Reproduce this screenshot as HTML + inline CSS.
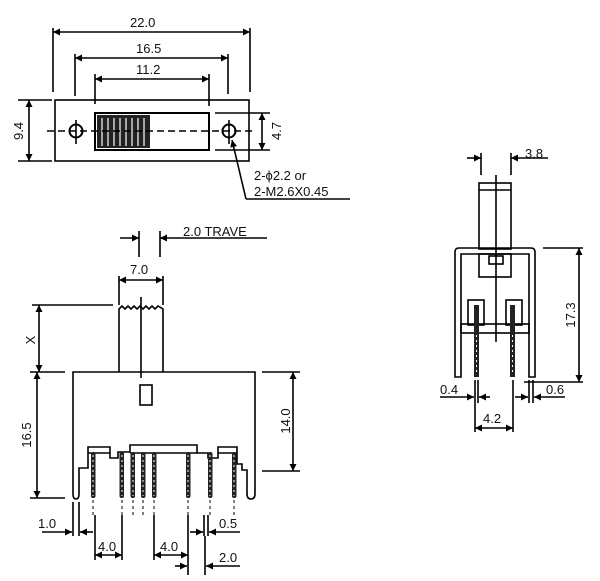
<!DOCTYPE html>
<html><head><meta charset="utf-8"><style>
html,body{margin:0;padding:0;background:#fff}
svg{display:block}
text{font-family:"Liberation Sans",sans-serif;font-size:13px;fill:#111}
</style></head><body>
<svg width="600" height="581" viewBox="0 0 600 581" xmlns="http://www.w3.org/2000/svg">
<defs>
<marker id="a" viewBox="0 0 10 10" refX="10" refY="5" markerWidth="9" markerHeight="7" orient="auto-start-reverse" markerUnits="userSpaceOnUse"><path d="M0,0 L10,5 L0,10 z" fill="#000"/></marker>
</defs>
<g stroke="#000" stroke-width="1.6" fill="none">
<!-- TOP VIEW -->
<line x1="53" y1="28" x2="53" y2="92"/><line x1="250" y1="28" x2="250" y2="92"/>
<line x1="53" y1="32" x2="250" y2="32" marker-start="url(#a)" marker-end="url(#a)"/>
<line x1="75" y1="54" x2="75" y2="96"/><line x1="228" y1="54" x2="228" y2="94"/>
<line x1="75" y1="58" x2="228" y2="58" marker-start="url(#a)" marker-end="url(#a)"/>
<line x1="95" y1="74" x2="95" y2="104"/><line x1="209" y1="74" x2="209" y2="106"/>
<line x1="95" y1="79" x2="209" y2="79" marker-start="url(#a)" marker-end="url(#a)"/>
<rect x="55" y="100" width="194" height="61"/>
<rect x="95" y="113" width="114" height="37" stroke-width="2"/>
<rect x="97" y="115" width="53" height="33" fill="#222" stroke="none"/>
<g stroke="#fff" stroke-width="1.2">
<line x1="102" y1="118" x2="102" y2="146"/><line x1="108" y1="118" x2="108" y2="146"/><line x1="114" y1="118" x2="114" y2="146"/><line x1="120" y1="118" x2="120" y2="146"/><line x1="126" y1="118" x2="126" y2="146"/><line x1="132" y1="118" x2="132" y2="146"/><line x1="138" y1="118" x2="138" y2="146"/><line x1="144" y1="118" x2="144" y2="146"/>
</g>
<line x1="47" y1="131" x2="255" y2="131" stroke-dasharray="7,4"/>
<circle cx="76" cy="131" r="6.5" stroke-width="2"/><line x1="76" y1="120" x2="76" y2="144"/>
<circle cx="229" cy="131" r="6.5" stroke-width="2"/><line x1="229" y1="120" x2="229" y2="144"/>
<line x1="18" y1="100" x2="52" y2="100"/><line x1="18" y1="161" x2="52" y2="161"/>
<line x1="29" y1="100" x2="29" y2="161" marker-start="url(#a)" marker-end="url(#a)"/>
<line x1="215" y1="113" x2="270" y2="113"/><line x1="215" y1="150" x2="270" y2="150"/>
<line x1="262" y1="113" x2="262" y2="150" marker-start="url(#a)" marker-end="url(#a)"/>
<polyline points="246,199 350,199"/>
<line x1="246" y1="199" x2="232" y2="140" marker-end="url(#a)"/>

<!-- FRONT VIEW -->
<line x1="139" y1="231" x2="139" y2="257"/><line x1="160" y1="231" x2="160" y2="257"/>
<line x1="120" y1="238" x2="139" y2="238" marker-end="url(#a)"/>
<line x1="267" y1="238" x2="160" y2="238" marker-end="url(#a)"/>
<line x1="119" y1="276" x2="119" y2="305"/><line x1="163" y1="276" x2="163" y2="305"/>
<line x1="119" y1="280" x2="163" y2="280" marker-start="url(#a)" marker-end="url(#a)"/>
<path d="M119,372 L119,309 l3,-3 3,3 3,-3 3,3 3,-3 3,3 3,-3 3,3 3,-3 3,3 3,-3 3,3 3,-3 L163,309 L163,372"/>
<line x1="141" y1="297" x2="141" y2="378"/>
<line x1="32" y1="305" x2="113" y2="305"/><line x1="30" y1="372" x2="65" y2="372"/>
<line x1="39" y1="305" x2="39" y2="372" marker-start="url(#a)" marker-end="url(#a)"/>
<line x1="30" y1="498" x2="65" y2="498"/>
<line x1="37" y1="372" x2="37" y2="498" marker-start="url(#a)" marker-end="url(#a)"/>
<path d="M73,372 L255,372 L255,494 Q255,499 251,499 Q247,499 247,494 L247,470 L242,470 L242,464 L237,464 L237,447 L218,447 L218,458 L208,458 L208,453 L197,453 L197,445 L130,445 L130,452 L118,452 L118,458 L110,458 L110,447 L88,447 L88,468 L79,468 L79,494 Q79,499 76,499 Q73,499 73,494 Z"/>
<line x1="130" y1="453" x2="197" y2="453"/>
<line x1="88" y1="453" x2="110" y2="453"/><line x1="218" y1="453" x2="237" y2="453"/>
<rect x="140" y="385" width="12" height="20"/>
<line x1="262" y1="372" x2="300" y2="372"/><line x1="262" y1="471" x2="300" y2="471"/>
<line x1="293" y1="372" x2="293" y2="471" marker-start="url(#a)" marker-end="url(#a)"/>
</g>
<g fill="#222">
<rect x="91" y="452" width="4.5" height="46" rx="2"/><rect x="119.5" y="452" width="4.5" height="46" rx="2"/><rect x="130.5" y="452" width="4.5" height="46" rx="2"/><rect x="141" y="452" width="4.5" height="46" rx="2"/><rect x="152" y="452" width="4.5" height="46" rx="2"/><rect x="186" y="452" width="4.5" height="46" rx="2"/><rect x="208" y="452" width="4.5" height="46" rx="2"/><rect x="232" y="452" width="4.5" height="46" rx="2"/>
</g>
<g stroke="#fff" stroke-width="1" stroke-dasharray="2,3">
<line x1="93" y1="455" x2="93" y2="496"/><line x1="122" y1="455" x2="122" y2="496"/><line x1="133" y1="455" x2="133" y2="496"/><line x1="143" y1="455" x2="143" y2="496"/><line x1="154" y1="455" x2="154" y2="496"/><line x1="188" y1="455" x2="188" y2="496"/><line x1="210" y1="455" x2="210" y2="496"/><line x1="234" y1="455" x2="234" y2="496"/>
</g>
<g stroke="#000" stroke-width="1" stroke-dasharray="3,3">
<line x1="93" y1="500" x2="93" y2="515"/><line x1="122" y1="500" x2="122" y2="515"/><line x1="133" y1="500" x2="133" y2="515"/><line x1="143" y1="500" x2="143" y2="515"/><line x1="154" y1="500" x2="154" y2="515"/><line x1="188" y1="500" x2="188" y2="515"/><line x1="210" y1="500" x2="210" y2="515"/><line x1="234" y1="500" x2="234" y2="515"/>
</g>
<g stroke="#000" stroke-width="1.6" fill="none">
<line x1="73" y1="502" x2="73" y2="536"/><line x1="79" y1="502" x2="79" y2="536"/>
<line x1="42" y1="532" x2="72" y2="532" marker-end="url(#a)"/>
<line x1="93" y1="532" x2="80" y2="532" marker-end="url(#a)"/>
<line x1="95" y1="515" x2="95" y2="560"/><line x1="122" y1="515" x2="122" y2="560"/>
<line x1="95" y1="555" x2="122" y2="555" marker-start="url(#a)" marker-end="url(#a)"/>
<line x1="154" y1="515" x2="154" y2="560"/><line x1="188" y1="515" x2="188" y2="575"/>
<line x1="154" y1="555" x2="188" y2="555" marker-start="url(#a)" marker-end="url(#a)"/>
<line x1="204" y1="515" x2="204" y2="536"/><line x1="208" y1="515" x2="208" y2="536"/><line x1="205" y1="536" x2="205" y2="575"/>
<line x1="190" y1="532" x2="203" y2="532" marker-end="url(#a)"/>
<line x1="240" y1="532" x2="209" y2="532" marker-end="url(#a)"/>
<line x1="175" y1="566" x2="187" y2="566" marker-end="url(#a)"/>
<line x1="240" y1="566" x2="206" y2="566" marker-end="url(#a)"/>

<!-- SIDE VIEW -->
<line x1="481" y1="153" x2="481" y2="175"/><line x1="511" y1="153" x2="511" y2="175"/>
<line x1="467" y1="158" x2="481" y2="158" marker-end="url(#a)"/>
<line x1="548" y1="158" x2="511" y2="158" marker-end="url(#a)"/>
<rect x="479" y="183" width="32" height="66"/><line x1="479" y1="190" x2="511" y2="190"/>
<line x1="496" y1="175" x2="496" y2="342"/>
<path d="M455,377 L455,252 Q455,248 459,248 L531,248 Q535,248 535,252 L535,377 L529,377 L529,254 L461,254 L461,377 Z"/>
<rect x="479" y="254" width="32" height="23"/><rect x="489" y="256" width="14" height="8"/>
<rect x="468" y="300" width="16" height="25"/><rect x="506" y="300" width="16" height="25"/>
<rect x="461" y="324" width="68" height="9"/>
<line x1="543" y1="248" x2="583" y2="248"/><line x1="524" y1="382" x2="583" y2="382"/>
<line x1="579" y1="248" x2="579" y2="382" marker-start="url(#a)" marker-end="url(#a)"/>
<line x1="475" y1="380" x2="475" y2="432"/><line x1="478" y1="380" x2="478" y2="403"/>
<line x1="513" y1="380" x2="513" y2="432"/>
<line x1="529" y1="380" x2="529" y2="403"/><line x1="533" y1="380" x2="533" y2="403"/>
<line x1="440" y1="397" x2="474" y2="397" marker-end="url(#a)"/>
<line x1="490" y1="397" x2="479" y2="397" marker-end="url(#a)"/>
<line x1="515" y1="397" x2="528" y2="397" marker-end="url(#a)"/>
<line x1="565" y1="397" x2="534" y2="397" marker-end="url(#a)"/>
<line x1="475" y1="428" x2="513" y2="428" marker-start="url(#a)" marker-end="url(#a)"/>
</g>
<g fill="#222">
<rect x="474" y="305" width="5" height="72"/><rect x="510" y="305" width="5" height="72"/>
</g>
<g stroke="#fff" stroke-width="1" stroke-dasharray="2,3"><line x1="476.5" y1="335" x2="476.5" y2="375"/><line x1="512.5" y1="335" x2="512.5" y2="375"/></g>

<text x="130" y="27" font-size="14">22.0</text>
<text x="136" y="53" font-size="14">16.5</text>
<text x="136" y="74" font-size="14">11.2</text>
<text transform="translate(23,131) rotate(-90)" text-anchor="middle" font-size="14">9.4</text>
<text transform="translate(281,131) rotate(-90)" text-anchor="middle" font-size="14">4.7</text>
<text x="254" y="180">2-ϕ2.2  or</text>
<text x="254" y="196">2-M2.6X0.45</text>
<text x="183" y="236">2.0  TRAVE</text>
<text x="130" y="274" font-size="14">7.0</text>
<text transform="translate(35,340) rotate(-90)" text-anchor="middle">X</text>
<text transform="translate(31,435) rotate(-90)" text-anchor="middle" font-size="14">16.5</text>
<text transform="translate(290,421) rotate(-90)" text-anchor="middle" font-size="14">14.0</text>
<text x="38" y="528">1.0</text>
<text x="98" y="551">4.0</text>
<text x="160" y="551">4.0</text>
<text x="219" y="528">0.5</text>
<text x="219" y="562">2.0</text>
<text x="525" y="158">3.8</text>
<text transform="translate(575,315) rotate(-90)" text-anchor="middle" font-size="14">17.3</text>
<text x="440" y="394">0.4</text>
<text x="546" y="394">0.6</text>
<text x="483" y="423">4.2</text>
</svg>
</body></html>
